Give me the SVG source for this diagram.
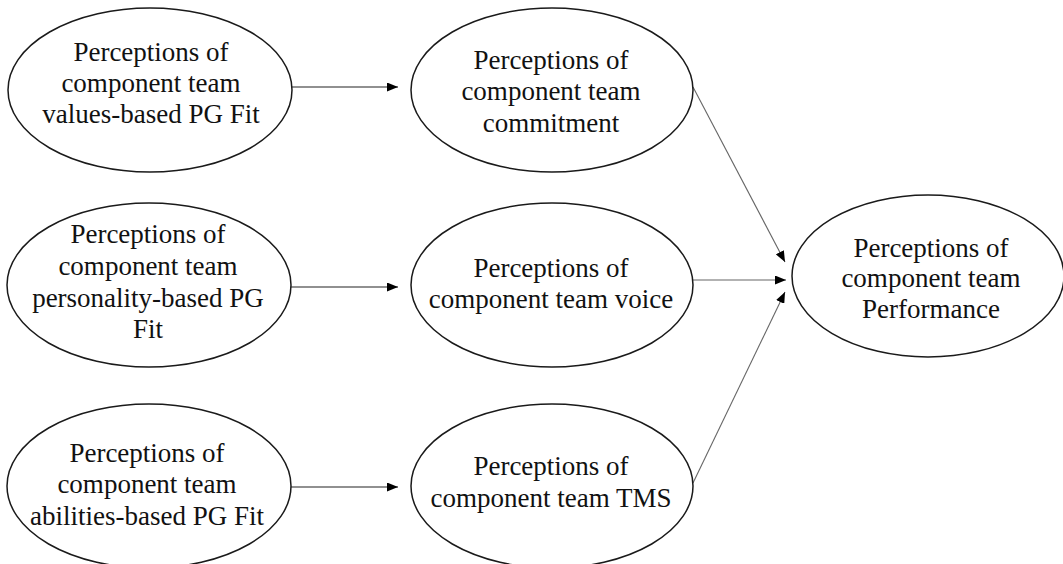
<svg xmlns="http://www.w3.org/2000/svg" width="1063" height="564" viewBox="0 0 1063 564">
  <style>
    .node ellipse { fill: #ffffff; stroke: #1a1a1a; stroke-width: 1.5; }
    .node text { font-family: "Liberation Serif", "Times New Roman", serif; font-size: 27px; fill: #111111; text-anchor: middle; }
    .edge { stroke: #222222; stroke-width: 1.1; fill: none; marker-end: url(#arrow); }
    .edge.light { stroke: #666666; }
  </style>
  <defs>
    <marker id="arrow" viewBox="0 0 11 9" refX="11" refY="4.5" markerWidth="11" markerHeight="9" markerUnits="userSpaceOnUse" orient="auto">
      <path d="M0,0 L11,4.5 L0,9 Z" fill="#000000"/>
    </marker>
  </defs>
  <rect width="1063" height="564" fill="#ffffff"/>

  <!-- connectors -->
  <g id="connectors">
    <line class="edge" x1="292" y1="87" x2="398" y2="87"/>
    <line class="edge" x1="291" y1="287" x2="398" y2="287"/>
    <line class="edge" x1="291" y1="487" x2="398" y2="487"/>
    <line class="edge light" x1="693" y1="87" x2="785" y2="262"/>
    <line class="edge light" x1="693" y1="280" x2="786" y2="280"/>
    <line class="edge light" x1="693" y1="483" x2="785" y2="292"/>
  </g>

  <!-- left column -->
  <g id="values-fit" class="node">
    <ellipse cx="150" cy="90" rx="142" ry="82"/>
    <text x="151" y="61">Perceptions of</text>
    <text x="151" y="92">component team</text>
    <text x="151" y="123">values-based PG Fit</text>
  </g>
  <g id="personality-fit" class="node">
    <ellipse cx="149" cy="285" rx="142" ry="82"/>
    <text x="148" y="243">Perceptions of</text>
    <text x="148" y="275">component team</text>
    <text x="148" y="307">personality-based PG</text>
    <text x="148" y="338">Fit</text>
  </g>
  <g id="abilities-fit" class="node">
    <ellipse cx="149" cy="486" rx="142" ry="82"/>
    <text x="147" y="462">Perceptions of</text>
    <text x="147" y="493">component team</text>
    <text x="147" y="525">abilities-based PG Fit</text>
  </g>

  <!-- middle column -->
  <g id="commitment" class="node">
    <ellipse cx="552" cy="90" rx="141" ry="82"/>
    <text x="551" y="69">Perceptions of</text>
    <text x="551" y="100">component team</text>
    <text x="551" y="132">commitment</text>
  </g>
  <g id="voice" class="node">
    <ellipse cx="552" cy="285" rx="141" ry="82"/>
    <text x="551" y="277">Perceptions of</text>
    <text x="551" y="308">component team voice</text>
  </g>
  <g id="tms" class="node">
    <ellipse cx="552" cy="486" rx="141" ry="82"/>
    <text x="551" y="475">Perceptions of</text>
    <text x="551" y="507">component team TMS</text>
  </g>

  <!-- outcome -->
  <g id="performance" class="node">
    <ellipse cx="928" cy="276" rx="136" ry="81"/>
    <text x="931" y="257">Perceptions of</text>
    <text x="931" y="287">component team</text>
    <text x="931" y="318">Performance</text>
  </g>
</svg>
